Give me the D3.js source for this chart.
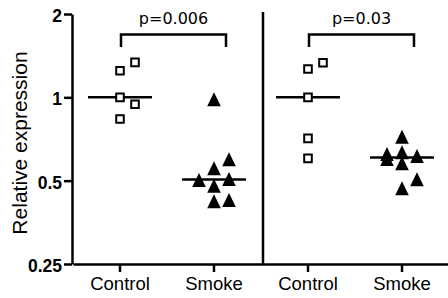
<!DOCTYPE html>
<html>
<head>
<meta charset="utf-8">
<script src="https://cdn.jsdelivr.net/npm/d3@7"></script>
<style>
  body { margin: 0; background: #fff; }
  svg { display: block; }
  .axis path, .axis line { stroke: #000; stroke-width: 2.5; }
  .yaxis text { font: bold 17.5px "Liberation Sans", Arial, sans-serif; }
  .xaxis text { font: 18.5px "Liberation Sans", Arial, sans-serif; }
</style>
</head>
<body>
<svg id="chart"></svg>
<script>
// groups along the x axis
const categories = ['Control', 'Smoke', 'Control', 'Smoke'];
// relative expression per group (order matters for the point spread)
const control1 = [1.0, 0.835, 1.248, 1.338, 0.944];
const smoke1 = [0.984, 0.554, 0.597, 0.479, 0.507, 0.503, 0.421, 0.426];
const control2 = [1.266, 1.334, 1.0, 0.711, 0.602];
const smoke2 = [0.721, 0.578, 0.469, 0.506, 0.614, 0.599, 0.633, 0.624];
const yTicks = [0.25, 0.5, 1, 2];
const pLabels = ['p=0.006', 'p=0.03'];

const groups = [control1, smoke1, control2, smoke2];

const width = 448, height = 298;
const svg = d3.select('#chart').attr('width', width).attr('height', height);

const x = d3.scaleBand().domain(d3.range(categories.length)).range([73, 449]);
const y = d3.scaleLog().base(2).domain([0.25, 2]).range([264, 14]);
const cx = i => x(i) + x.bandwidth() / 2;

// y axis
svg.append('g')
    .attr('class', 'axis yaxis')
    .attr('transform', 'translate(72,0)')
    .call(d3.axisLeft(y).tickValues(yTicks).tickFormat(d => d).tickSize(8).tickSizeOuter(0).tickPadding(2))
    .selectAll('text')
    .attr('dy', '0.42em');

// x axis
svg.append('g')
    .attr('class', 'axis xaxis')
    .attr('transform', 'translate(0,264)')
    .call(d3.axisBottom(x).tickFormat(i => categories[i]).tickSize(8).tickSizeOuter(0).tickPadding(5));

// divider between the two experiments
svg.append('line')
    .attr('x1', x(2) + 2).attr('x2', x(2) + 2)
    .attr('y1', 12).attr('y2', 264)
    .attr('stroke', '#000').attr('stroke-width', 2.5);

svg.append('text')
    .attr('transform', 'translate(27,143) rotate(-90)')
    .attr('text-anchor', 'middle')
    .style('font', '21px "Liberation Sans", Arial, sans-serif')
    .text('Relative expression');

// simple column scatter: shift a point sideways when it sits too close to another
function spread(vals, step, gap) {
    let placed = [];
    vals.forEach(v => {
        let py = y(v);
        let best = 0, bestD = -1;
        for (let dx of [0, step, -step]) {
            let near = placed.filter(p => p.dx === dx).map(p => Math.abs(p.y - py));
            let d = near.length ? d3.min(near) : Infinity;
            if (d >= gap) { best = dx; break; }
            if (d > bestD) { bestD = d; best = dx; }
        }
        placed.push({ v: v, y: py, dx: best });
    });
    return placed;
}

const square = 'M-3.8,-3.8H3.8V3.8H-3.8Z';
const triangle = 'M0,-7L6.8,7H-6.8Z';

groups.forEach((vals, i) => {
    let pts = spread(vals, 15, 10);
    let g = svg.append('g');
    let isControl = categories[i] === 'Control';
    g.selectAll('path')
        .data(pts)
        .enter()
        .append('path')
        .attr('d', isControl ? square : triangle)
        .attr('transform', d => `translate(${cx(i) + d.dx},${d.y})`)
        .attr('fill', isControl ? '#fff' : '#000')
        .attr('stroke', '#000')
        .attr('stroke-width', isControl ? 2 : 0);

    let med = d3.median(vals);
    g.append('line')
        .attr('x1', cx(i) - 32).attr('x2', cx(i) + 32)
        .attr('y1', y(med)).attr('y2', y(med))
        .attr('stroke', '#000').attr('stroke-width', 2.5);
    // redraw squares over the line like the original
    if (isControl) {
        g.selectAll('path').raise();
    }
});

// significance brackets
pLabels.forEach((p, k) => {
    let a = cx(k * 2) + 1, b = cx(k * 2 + 1) + 12;
    svg.append('path')
        .attr('d', `M${a},47V34.5H${b}V47`)
        .attr('fill', 'none')
        .attr('stroke', '#000')
        .attr('stroke-width', 2.5);
    svg.append('text')
        .attr('x', (a + b) / 2).attr('y', 24)
        .attr('text-anchor', 'middle')
        .style('font', '16px "DejaVu Sans", sans-serif')
        .text(p);
});
</script>
</body>
</html>
